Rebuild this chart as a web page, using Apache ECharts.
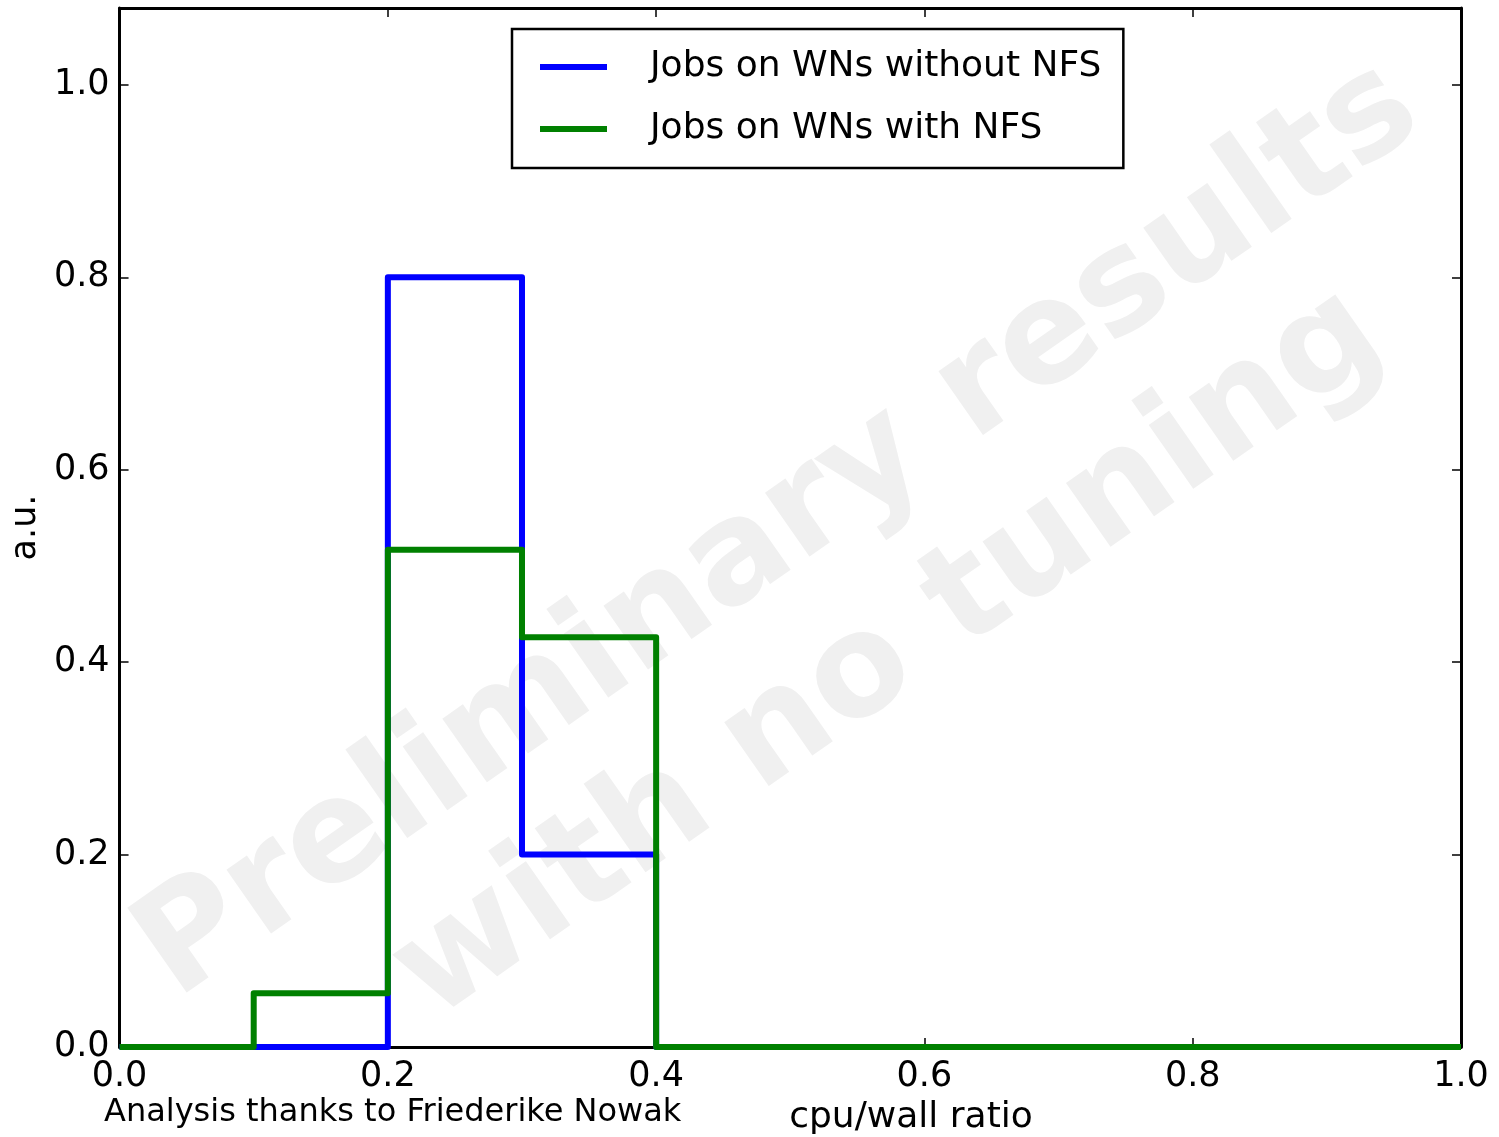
<!DOCTYPE html>
<html>
<head>
<meta charset="utf-8">
<script src="https://cdn.jsdelivr.net/npm/echarts@6/dist/echarts.min.js"></script>
<style>
html,body{margin:0;padding:0;background:#fff;}
#chart{width:1499px;height:1137px;}
</style>
</head>
<body>
<div id="chart"></div>
<script>
// ---- data ----
var binEdges = [0.0, 0.1, 0.2, 0.3, 0.4, 0.5, 0.6, 0.7, 0.8, 0.9, 1.0];
var withoutNFS = [0, 0, 0.8, 0.2, 0, 0, 0, 0, 0, 0];
var withNFS = [0, 0.056, 0.517, 0.426, 0, 0, 0, 0, 0, 0];
var seriesNames = ['Jobs on WNs without NFS', 'Jobs on WNs with NFS'];
var xTicks = [0.0, 0.2, 0.4, 0.6, 0.8, 1.0];
var yTicks = [0.0, 0.2, 0.4, 0.6, 0.8, 1.0];
var xLabel = 'cpu/wall ratio';
var yLabel = 'a.u.';
var creditText = 'Analysis thanks to Friederike Nowak';
var watermark1 = 'Preliminary results';
var watermark2 = 'with no tuning';

function stepPoints(edges, vals) {
  var pts = [[edges[0], 0]];
  for (var i = 0; i < vals.length; i++) {
    pts.push([edges[i], vals[i]]);
    pts.push([edges[i + 1], vals[i]]);
  }
  pts.push([edges[edges.length - 1], 0]);
  return pts;
}

var FONT = 'DejaVu Sans';
var chart = echarts.init(document.getElementById('chart'), null, {renderer: 'canvas'});

function fmt(v) {
  for (var i = 0; i < yTicks.length; i++) if (Math.abs(v - yTicks[i]) < 1e-9) return v.toFixed(1);
  return '';
}

var axisCommon = {
  type: 'value',
  axisLine: {show: true, onZero: false, lineStyle: {color: '#000', width: 3}},
  axisTick: {show: true, inside: true, length: 9, lineStyle: {color: '#000', width: 1.5}},
  splitLine: {show: false}
};

var option = {
  animation: false,
  backgroundColor: '#fff',
  grid: {left: 118, right: 38, top: 8, bottom: 90, containLabel: false},
  xAxis: [
    Object.assign({}, axisCommon, {
      position: 'bottom', min: 0, max: 1, interval: 0.2,
      axisLabel: {show: true, margin: 12, fontFamily: FONT, fontSize: 35, color: '#000',
        formatter: function (v) { return v.toFixed(1); }}
    }),
    Object.assign({}, axisCommon, {
      position: 'top', min: 0, max: 1, interval: 0.2,
      axisLabel: {show: false}
    })
  ],
  yAxis: [
    Object.assign({}, axisCommon, {
      position: 'left', min: 0, max: 1.08, interval: 0.2,
      name: yLabel, nameLocation: 'middle', nameGap: 74,
      nameTextStyle: {fontFamily: FONT, fontSize: 35, color: '#000'},
      axisLabel: {show: true, margin: 10, fontFamily: FONT, fontSize: 35, color: '#000',
        showMaxLabel: false, formatter: fmt, padding: [3, 0, 0, 0]}
    }),
    Object.assign({}, axisCommon, {
      position: 'right', min: 0, max: 1.08, interval: 0.2,
      axisLabel: {show: false}
    })
  ],
  legend: {
    show: true,
    orient: 'vertical',
    left: 512, top: 29,
    data: seriesNames.map(function (n) { return {name: n, icon: 'rect'}; }),
    backgroundColor: '#fff',
    borderColor: '#000', borderWidth: 2.5, borderRadius: 0,
    padding: [20, 22, 21, 28],
    itemWidth: 67, itemHeight: 6, itemGap: 26,
    textStyle: {fontFamily: FONT, fontSize: 36, color: '#000', lineHeight: 35, padding: [0, 0, 0, 38]}
  },
  graphic: [
    {type: 'text', z: 0, x: 780, y: 532, rotation: 35 * Math.PI / 180,
      style: {text: watermark1, font: 'bold 142px "DejaVu Sans"', fill: '#f0f0f0',
        textAlign: 'center', textVerticalAlign: 'middle'}},
    {type: 'text', z: 0, x: 890, y: 656, rotation: 35 * Math.PI / 180,
      style: {text: watermark2, font: 'bold 142px "DejaVu Sans"', fill: '#f0f0f0',
        textAlign: 'center', textVerticalAlign: 'middle'}},
    {type: 'text', x: 911, y: 1118,
      style: {text: xLabel, font: '36px "DejaVu Sans"', fill: '#000',
        textAlign: 'center', textVerticalAlign: 'middle'}},
    {type: 'text', x: 104, y: 1113,
      style: {text: creditText, font: '32px "DejaVu Sans"', fill: '#000',
        textAlign: 'left', textVerticalAlign: 'middle'}}
  ],
  series: [
    {name: seriesNames[0], type: 'line', z: 3, data: stepPoints(binEdges, withoutNFS),
      symbol: 'none', lineStyle: {color: '#0000ff', width: 6, join: 'round'}, itemStyle: {color: '#0000ff'}},
    {name: seriesNames[1], type: 'line', z: 4, data: stepPoints(binEdges, withNFS),
      symbol: 'none', lineStyle: {color: '#008000', width: 6, join: 'round'}, itemStyle: {color: '#008000'}}
  ]
};
chart.setOption(option);
</script>
</body>
</html>
